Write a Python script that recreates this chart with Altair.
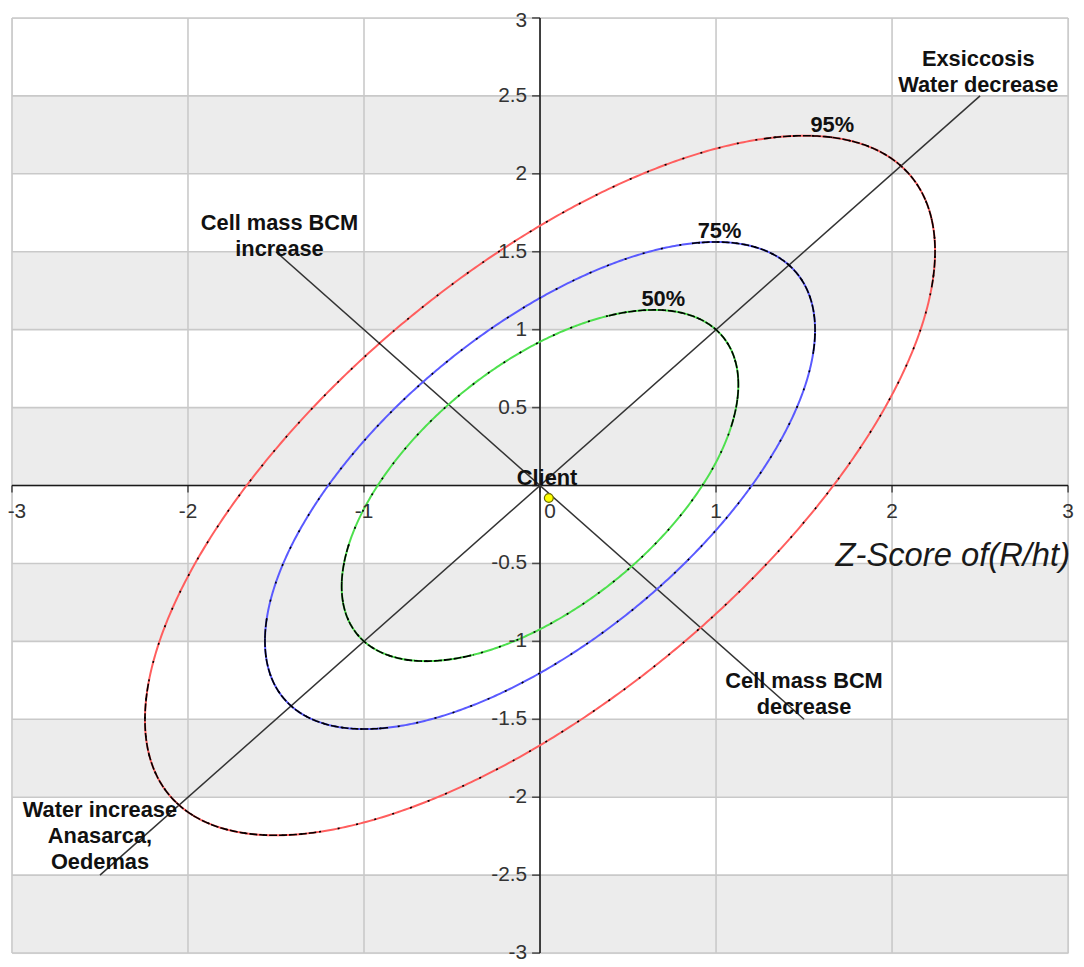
import numpy as np
import pandas as pd
import altair as alt

# ---------------- data ----------------
x_ticks = [-3, -2, -1, 0, 1, 2, 3]
y_ticks = [-3, -2.5, -2, -1.5, -1, -0.5, 0, 0.5, 1, 1.5, 2, 2.5, 3]
x_tick_labels = ["-3", "-2", "-1", "0", "1", "2", "3"]
y_tick_labels = ["-3", "-2.5", "-2", "-1.5", "-1", "-0.5", "", "0.5", "1", "1.5", "2", "2.5", "3"]
band_lo = [2, 1, 0, -1, -2, -3]
band_hi = [2.5, 1.5, 0.5, -0.5, -1.5, -2.5]

# tolerance ellipses (centred at 0,0, major axis along y = x)
ell_names = ["50%", "75%", "95%"]
ell_major = [1.414, 2.0, 2.9]     # semi-axis along y = x
ell_minor = [0.735, 0.94, 1.29]   # semi-axis along y = -x
ell_label_x = [0.70, 1.02, 1.66]
ell_label_y = [1.15, 1.59, 2.27]

# reference lines
ref_x1 = [-2.5, -1.5]
ref_y1 = [-2.5, 1.5]
ref_x2 = [2.5, 1.5]
ref_y2 = [2.5, -1.5]

# annotations
ann_text = ["Exsiccosis\nWater decrease", "Cell mass BCM\nincrease",
            "Cell mass BCM\ndecrease", "Water increase\nAnasarca,\nOedemas"]
ann_x = [2.49, -1.48, 1.50, -2.50]
ann_y = [2.69, 1.64, -1.30, -2.13]

client_x = [0.05]
client_y = [-0.08]
client_label = ["Client"]
client_label_x = [0.04]
client_label_y = [0.005]

x_title = "Z-Score of(R/ht)"

# ---------------- styles ----------------
ell_colors = ["#4ee04e", "#5a5aff", "#ff5e5e"]
dark_halfwidth = [0.75, 0.55, 0.55]
FONT = "Liberation Sans"

W, H = 1065, 943
XS = alt.Scale(domain=[-3, 3], nice=False, zero=False)
YS = alt.Scale(domain=[-3, 3], nice=False, zero=False)


def X(f):
    return alt.X(f, type="quantitative", scale=XS, axis=None)


def Y(f):
    return alt.Y(f, type="quantitative", scale=YS, axis=None)


def X2(f):
    return alt.X2(f)


def Y2(f):
    return alt.Y2(f)


# ---------------- tables ----------------
bands = pd.DataFrame({"x0": -3, "x1": 3, "y0": band_lo, "y1": band_hi})
vgrid = pd.DataFrame({"x": x_ticks, "y0": -3, "y1": 3})
hgrid = pd.DataFrame({"y": y_ticks, "x0": -3, "x1": 3})
zero_axes = pd.DataFrame({"x0": [-3, 0], "x1": [3, 0], "y0": [0, -3], "y1": [0, 3]})
xt = pd.DataFrame({"x": x_ticks, "y": 0, "lab": x_tick_labels})
yt = pd.DataFrame({"y": y_ticks, "x": 0, "lab": y_tick_labels})
refs = pd.DataFrame({"x0": ref_x1, "y0": ref_y1, "x1": ref_x2, "y1": ref_y2})
ann = pd.DataFrame({"x": ann_x, "y": ann_y, "t": ann_text})
pct = pd.DataFrame({"x": ell_label_x, "y": ell_label_y, "t": ell_names})
client = pd.DataFrame({"x": client_x, "y": client_y})
client_lab = pd.DataFrame({"x": client_label_x, "y": client_label_y, "t": client_label})
title_df = pd.DataFrame({"x": [3], "y": [0], "t": [x_title]})


def ellipse_points(a, b, t):
    u = a * np.cos(t)
    v = b * np.sin(t)
    return (u - v) / np.sqrt(2), (u + v) / np.sqrt(2)


rows = []
arc_rows = []
for k, (name, a, b) in enumerate(zip(ell_names, ell_major, ell_minor)):
    t = np.linspace(0, 2 * np.pi, 721)
    ex, ey = ellipse_points(a, b, t)
    for i in range(len(t)):
        rows.append({"name": name, "i": i, "x": ex[i], "y": ey[i]})
    w = dark_halfwidth[k]
    for g, c in enumerate([0.0, np.pi]):
        ta = np.linspace(c - w, c + w, 120)
        ax, ay = ellipse_points(a, b, ta)
        for i in range(len(ta)):
            arc_rows.append({"name": name, "g": f"{name}-{g}", "i": i, "x": ax[i], "y": ay[i]})
ell = pd.DataFrame(rows)
arcs = pd.DataFrame(arc_rows)

# ---------------- layers ----------------
layers = []
layers.append(alt.Chart(bands).mark_rect(color="#ececec").encode(
    x=X("x0"), x2=X2("x1"), y=Y("y0"), y2=Y2("y1")))
layers.append(alt.Chart(vgrid).mark_rule(color="#c9c9c9", strokeWidth=1.6).encode(
    x=X("x"), y=Y("y0"), y2=Y2("y1")))
layers.append(alt.Chart(hgrid).mark_rule(color="#c9c9c9", strokeWidth=1.6).encode(
    y=Y("y"), x=X("x0"), x2=X2("x1")))
layers.append(alt.Chart(zero_axes).mark_rule(color="#1a1a1a", strokeWidth=1.6).encode(
    x=X("x0"), x2=X2("x1"), y=Y("y0"), y2=Y2("y1")))
layers.append(alt.Chart(xt).mark_tick(orient="vertical", size=7, yOffset=3.5,
                                      thickness=1.6, color="#1a1a1a").encode(x=X("x"), y=Y("y")))
layers.append(alt.Chart(yt).mark_tick(orient="horizontal", size=8, xOffset=-4,
                                      thickness=1.6, color="#1a1a1a").encode(x=X("x"), y=Y("y")))
layers.append(alt.Chart(refs).mark_rule(color="#333333", strokeWidth=1.5).encode(
    x=X("x0"), y=Y("y0"), x2=X2("x1"), y2=Y2("y1")))

for name, col in zip(ell_names, ell_colors):
    d = ell[ell["name"] == name]
    layers.append(alt.Chart(d).mark_line(color=col, strokeWidth=2).encode(
        x=X("x"), y=Y("y"), order="i:Q"))
    layers.append(alt.Chart(d).mark_line(color="#000000", strokeWidth=1.6,
                                         strokeDash=[2, 17]).encode(
        x=X("x"), y=Y("y"), order="i:Q"))
layers.append(alt.Chart(arcs).mark_line(color="#000000", strokeWidth=1.6,
                                        strokeDash=[8, 2]).encode(
    x=X("x"), y=Y("y"), detail="g:N", order="i:Q"))

# tick labels
tick_style = dict(font=FONT, fontSize=21, color="#333333")
layers.append(alt.Chart(xt[(xt["x"] != 0) & (xt["x"] != -3)]).mark_text(
    align="center", baseline="alphabetic", dy=33, **tick_style).encode(
    x=X("x"), y=Y("y"), text="lab:N"))
layers.append(alt.Chart(xt[xt["x"] == -3]).mark_text(
    align="center", baseline="alphabetic", dy=33, dx=5, **tick_style).encode(
    x=X("x"), y=Y("y"), text="lab:N"))
layers.append(alt.Chart(xt[xt["x"] == 0]).mark_text(
    align="center", baseline="alphabetic", dy=33, dx=10, **tick_style).encode(
    x=X("x"), y=Y("y"), text="lab:N"))
layers.append(alt.Chart(yt[yt["y"] != 3]).mark_text(
    align="right", baseline="middle", dx=-13, **tick_style).encode(
    x=X("x"), y=Y("y"), text="lab:N"))
layers.append(alt.Chart(yt[yt["y"] == 3]).mark_text(
    align="right", baseline="middle", dx=-13, dy=3, **tick_style).encode(
    x=X("x"), y=Y("y"), text="lab:N"))

# annotations
lab_style = dict(font=FONT, fontSize=22, fontWeight="bold", color="#111111", align="center",
                 baseline="alphabetic")
layers.append(alt.Chart(ann).mark_text(lineBreak="\n", lineHeight=26, **lab_style).encode(
    x=X("x"), y=Y("y"), text="t:N"))
layers.append(alt.Chart(pct).mark_text(**lab_style).encode(x=X("x"), y=Y("y"), text="t:N"))
layers.append(alt.Chart(client_lab).mark_text(**lab_style).encode(
    x=X("x"), y=Y("y"), text="t:N"))
layers.append(alt.Chart(client).mark_circle(size=80, color="#ffff00", opacity=1,
                                            stroke="#6f6f00", strokeWidth=1.2).encode(
    x=X("x"), y=Y("y")))
layers.append(alt.Chart(title_df).mark_text(
    font=FONT, fontSize=33, fontStyle="italic", color="#1a1a1a", align="right",
    baseline="alphabetic", dx=2, dy=81).encode(x=X("x"), y=Y("y"), text="t:N"))

chart = alt.layer(*layers).properties(
    width=W, height=H,
    autosize=alt.AutoSizeParams(type="none"),
    padding={"left": 4, "top": 6, "right": 8, "bottom": 10},
).configure_view(strokeWidth=0).configure(background="white")

chart.save("out.html", embed_options={"renderer": "svg", "actions": False})
